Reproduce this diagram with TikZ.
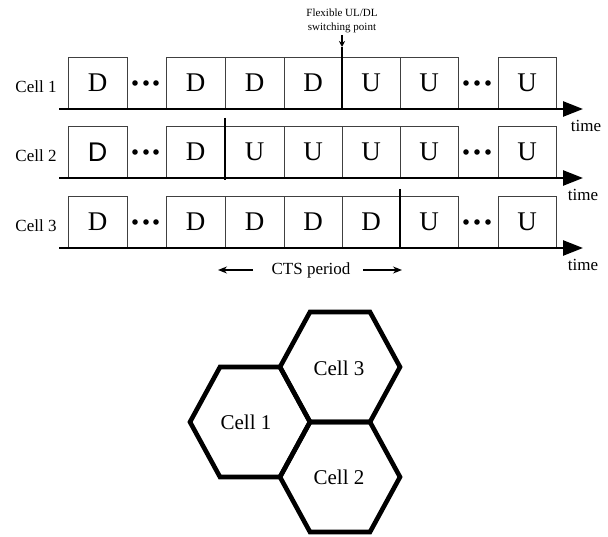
\documentclass[tikz,border=0pt]{standalone}
\usepackage{fontspec}
\setmainfont{Liberation Serif}
\newfontfamily\sansD{Liberation Sans}
\usetikzlibrary{arrows.meta}
\begin{document}
\begin{tikzpicture}[x=1pt,y=-1pt,
  slot/.style={draw=black!75, line width=0.7pt, inner sep=0pt, minimum height=52pt,
    font=\fontsize{27}{27}\selectfont},
  axis/.style={line width=2.6pt, -{Triangle[length=20pt,width=15pt]}},
  swline/.style={line width=2.2pt},
  celllbl/.style={font=\fontsize{17}{17}\selectfont, inner sep=0pt},
  timelbl/.style={font=\fontsize{17}{17}\selectfont, inner sep=0pt},
  hexcell/.style={line width=4.6pt, line join=miter},
  hexlbl/.style={font=\fontsize{21}{21}\selectfont, inner sep=0pt},
  dotmark/.style={fill=black, draw=none},
  ctsarrow/.style={line width=1.3pt, -{Stealth[length=9pt,width=7pt]}}
]
\useasboundingbox (0,0) rectangle (608,537);

% ---------- time rows ----------
\foreach \r/\top/\ax/\lab/\ls in {1/57/109/{D,D,D,D,U,U,U}/Cell 1,
                                  2/126/178/{{\sansD D},D,U,U,U,U,U}/Cell 2,
                                  3/196/248/{D,D,D,D,D,U,U}/Cell 3}{
  \pgfmathsetmacro\cy{(\top+\ax)/2}
  \foreach \l/\rr [count=\i] in {68/127,166/225,225/284,284/342,342/400,400/458,498/556}{
    \pgfmathsetmacro\cx{(\l+\rr)/2}
    \pgfmathsetmacro\w{\rr-\l}
    \foreach \t [count=\j] in \lab {
      \ifnum\j=\i
        \node[slot, minimum width=\w pt] (r\r b\i) at (\cx,\cy) {\t};
      \fi
    }
  }
  \foreach \dx [count=\k] in {135,146,156,466,477,488}{
    \fill[dotmark] (\dx,\cy) circle (2.8pt);
  }
  \node[celllbl] (cell\r) at (36,\cy+4) {\ls};
  \coordinate (ax\r s) at (59,\ax);
  \coordinate (ax\r e) at (583,\ax);
  \draw[axis] (ax\r s) -- (ax\r e);
}

% time labels
\node[timelbl] (time1) at (586,126) {time};
\node[timelbl] (time2) at (583,195) {time};
\node[timelbl] (time3) at (583,265) {time};

% switching points
\coordinate (sw1t) at (342,47);  \coordinate (sw1b) at (342,109);
\coordinate (sw2t) at (225,118); \coordinate (sw2b) at (225,180);
\coordinate (sw3t) at (400,189); \coordinate (sw3b) at (400,248);
\draw[swline] (sw1t) -- (sw1b);
\draw[swline] (sw2t) -- (sw2b);
\draw[swline] (sw3t) -- (sw3b);

\node[font=\fontsize{11}{14}\selectfont, align=center, inner sep=0pt] (flex) at (342,21)
  {Flexible UL/DL\\switching point};
\coordinate (flexa) at (342,35);
\draw[line width=1.2pt, -{Stealth[length=6pt,width=6pt]}] (flexa) -- (sw1t);

% CTS period
\node[font=\fontsize{17}{17}\selectfont, inner sep=0pt] (cts) at (311,270) {CTS period};
\coordinate (ctsL1) at (253,270); \coordinate (ctsL2) at (218,270);
\coordinate (ctsR1) at (363,270); \coordinate (ctsR2) at (402,270);
\draw[ctsarrow] (ctsL1) -- (ctsL2);
\draw[ctsarrow] (ctsR1) -- (ctsR2);

% ---------- hexagons ----------
\draw[hexcell] (190,422) -- (220,367) -- (280,367) -- (310,422) -- (280,477) -- (220,477) -- cycle;
\draw[hexcell] (280,367) -- (310,312) -- (370,312) -- (400,367) -- (370,422) -- (310,422) -- cycle;
\draw[hexcell] (280,477) -- (310,422) -- (370,422) -- (400,477) -- (370,532) -- (310,532) -- cycle;
\node[hexlbl] (hc3) at (339,368) {Cell 3};
\node[hexlbl] (hc1) at (246,422) {Cell 1};
\node[hexlbl] (hc2) at (339,477) {Cell 2};
\end{tikzpicture}
\end{document}
